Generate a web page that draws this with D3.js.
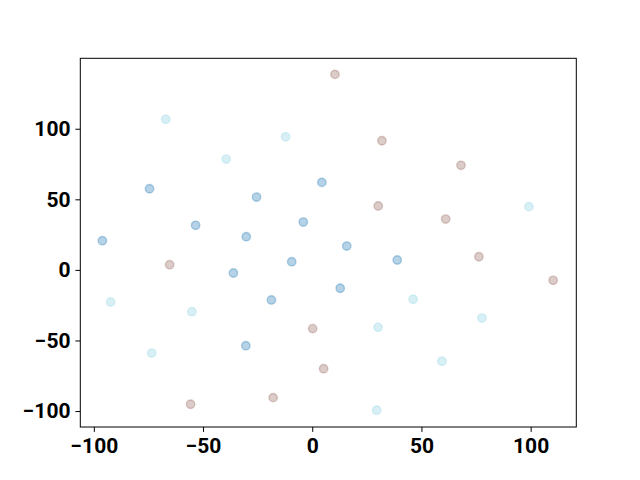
<!DOCTYPE html>
<html>
<head>
<meta charset="utf-8">
<script src="https://cdn.jsdelivr.net/npm/d3@7"></script>
<style>
  html, body { margin: 0; padding: 0; background: #fff; }
  svg text { font-family: Roboto, "Noto Sans", sans-serif; font-weight: bold; }
</style>
</head>
<body>
<svg id="chart" width="640" height="480"></svg>
<script>
// Series: dark blue
const blueX = [-96.1, -74.5, -53.4, -30.2, -25.5, -4.1, 4.4, -36.1, -9.4, -18.7, -30.4, 15.8, 12.8, 38.9];
const blueY = [20.7, 57.5, 31.6, 23.5, 51.6, 33.9, 62.0, -2.2, 5.8, -21.3, -53.7, 16.9, -13.0, 7.0];
// Series: light cyan
const cyanX = [-67.1, -39.4, -12.2, 99.2, -92.3, -55.1, -73.5, 46.2, 30.1, 77.7, 59.4, 29.5];
const cyanY = [106.7, 78.5, 94.3, 44.8, -22.7, -29.6, -58.9, -20.8, -40.7, -34.1, -64.7, -99.4];
// Series: brown
const brownX = [10.4, 31.9, 68.1, 30.2, 61.1, 76.3, 110.3, -65.3, 0.2, 5.2, -55.7, -17.9];
const brownY = [138.5, 91.5, 74.1, 45.3, 36.0, 9.3, -7.4, 3.7, -41.6, -70.0, -95.2, -90.5];

const xTicks = [-100, -50, 0, 50, 100];
const yTicks = [-100, -50, 0, 50, 100];

const series = [
  { xs: blueX, ys: blueY, color: "#1f77b4", alpha: 0.33 },
  { xs: cyanX, ys: cyanY, color: "#9edae5", alpha: 0.4 },
  { xs: brownX, ys: brownY, color: "#8c564b", alpha: 0.3 }
];

const svg = d3.select("#chart");
const mLeft = 80.3, mRight = 576.3, mTop = 58.3, mBottom = 427;

const x = d3.scaleLinear().domain([-106.2, 120.9]).range([mLeft, mRight]);
const y = d3.scaleLinear().domain([-111.3, 149.9]).range([mBottom, mTop]);

const fmt = d => d3.format("d")(d).replace("-", "\u2212");

// points
series.forEach(s => {
  const data = s.xs.map((v, i) => [v, s.ys[i]]);
  svg.append("g").selectAll("circle").data(data).join("circle")
    .attr("cx", d => x(d[0]))
    .attr("cy", d => y(d[1]))
    .attr("r", 4.2)
    .attr("fill", s.color)
    .attr("fill-opacity", s.alpha)
    .attr("stroke", s.color)
    .attr("stroke-opacity", s.alpha)
    .attr("stroke-width", 1.4);
});

// axes
const xAxis = svg.append("g").attr("transform", `translate(0,${mBottom})`)
  .call(d3.axisBottom(x).tickValues(xTicks).tickFormat(fmt).tickSize(4.9).tickPadding(4.9));
const yAxis = svg.append("g").attr("transform", `translate(${mLeft},0)`)
  .call(d3.axisLeft(y).tickValues(yTicks).tickFormat(fmt).tickSize(4.9).tickPadding(4.9));

[xAxis, yAxis].forEach(a => {
  a.select(".domain").remove();
  a.selectAll("line").attr("stroke", "#000").attr("stroke-width", 1);
  a.selectAll("text").attr("font-size", 21).attr("fill", "#000")
    .style("font-family", "Roboto, sans-serif").style("font-weight", "bold");
});
xAxis.selectAll("text").attr("dy", "0.76em");

// frame
svg.append("rect")
  .attr("x", mLeft).attr("y", mTop)
  .attr("width", mRight - mLeft).attr("height", mBottom - mTop)
  .attr("fill", "none").attr("stroke", "#000").attr("stroke-width", 1);
</script>
</body>
</html>
